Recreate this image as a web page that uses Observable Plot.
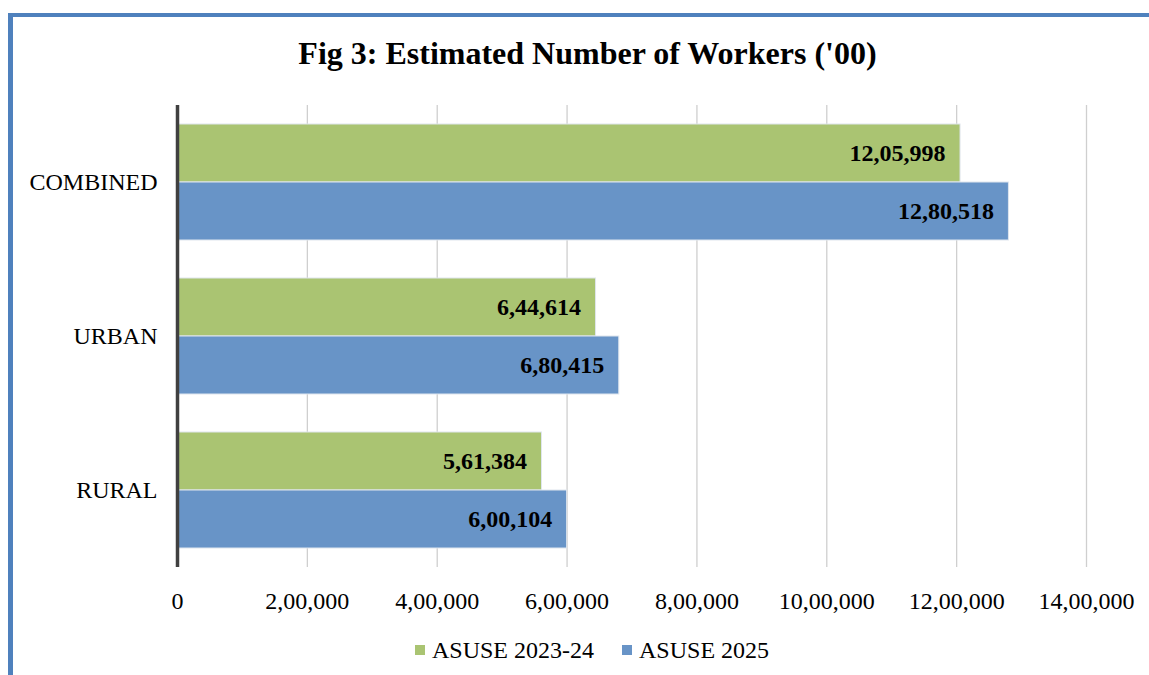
<!DOCTYPE html>
<html>
<head>
<meta charset="utf-8">
<script src="https://cdn.jsdelivr.net/npm/d3@7"></script>
<script src="https://cdn.jsdelivr.net/npm/@observablehq/plot@0.6"></script>
<style>
  html, body { margin: 0; padding: 0; background: #fff; width: 1149px; height: 675px; overflow: hidden; }
  #frame { position: absolute; left: 8px; top: 13px; width: 1141px; height: 662px; border-left: 5px solid #4f81bd; border-top: 4px solid #4f81bd; box-sizing: border-box; }
  #title { position: absolute; left: 0; top: 33px; width: 1175px; text-align: center; font-family: "Liberation Serif", serif; font-weight: bold; font-size: 32px; line-height: 40px; color: #000; }
  #chart { position: absolute; left: 13px; top: 90px; }
  #legend { position: absolute; left: 415px; top: 636px; font-family: "Liberation Serif", serif; font-size: 24px; line-height: 28px; color: #000; display: flex; align-items: center; white-space: nowrap; }
  .sw { display: inline-block; width: 10px; height: 10px; margin-right: 7px; }
  .item { display: flex; align-items: center; margin-right: 28px; }
</style>
</head>
<body>
<div id="frame"></div>
<div id="title">Fig 3: Estimated Number of Workers ('00)</div>
<div id="chart"></div>
<div id="legend"></div>
<script>
const categories = ["COMBINED", "URBAN", "RURAL"];
const seriesNames = ["ASUSE 2023-24", "ASUSE 2025"];
const values2023 = [1205998, 644614, 561384];
const values2025 = [1280518, 680415, 600104];
const xTicks = [0, 200000, 400000, 600000, 800000, 1000000, 1200000, 1400000];
const seriesColors = ["#aac472", "#6894c7"];

function indian(n) {
  const s = String(Math.round(n));
  if (s.length <= 3) return s;
  const last3 = s.slice(-3);
  let rest = s.slice(0, -3);
  rest = rest.replace(/\B(?=(\d{2})+(?!\d))/g, ",");
  return rest + "," + last3;
}

const data = [];
categories.forEach((c, i) => {
  data.push({category: c, series: seriesNames[0], value: values2023[i]});
  data.push({category: c, series: seriesNames[1], value: values2025[i]});
});

const plot = Plot.plot({
  width: 1136,
  height: 527,
  marginLeft: 164,
  marginRight: 63,
  marginTop: 14,
  marginBottom: 50,
  style: {fontFamily: "Liberation Serif", fontSize: "24px", color: "#000", background: "#fff", overflow: "visible"},
  x: {domain: [0, 1400000], ticks: xTicks, tickFormat: indian, tickSize: 0, tickPadding: 24, label: null},
  y: {domain: seriesNames, paddingInner: 0, paddingOuter: 0.32, axis: null},
  fy: {domain: categories, padding: 0, label: null, tickSize: 0, tickPadding: 20, axis: "left"},
  color: {domain: seriesNames, range: seriesColors},
  marks: [
    Plot.ruleX(xTicks.filter(d => d > 0), {stroke: "#cfcfcf", strokeWidth: 1.3}),
    Plot.barX(data, {x: "value", y: "series", fy: "category", fill: "series", stroke: "#dfe6ee", strokeWidth: 1}),
    Plot.ruleX([0], {stroke: "#404040", strokeWidth: 3.5}),
    Plot.text(data, {x: "value", y: "series", fy: "category", text: d => indian(d.value), textAnchor: "end", dx: -15, fontWeight: "bold", fontSize: 24, fill: "#000"})
  ]
});
document.getElementById("chart").appendChild(plot);

const legend = document.getElementById("legend");
seriesNames.forEach((s, i) => {
  const item = document.createElement("div");
  item.className = "item";
  const sw = document.createElement("span");
  sw.className = "sw";
  sw.style.background = seriesColors[i];
  item.appendChild(sw);
  item.appendChild(document.createTextNode(s));
  legend.appendChild(item);
});
</script>
</body>
</html>
